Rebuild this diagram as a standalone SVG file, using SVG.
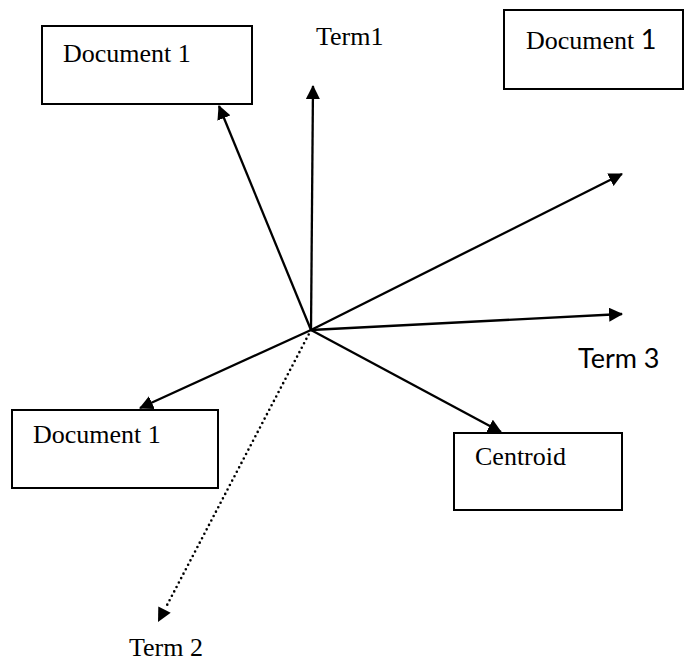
<svg xmlns="http://www.w3.org/2000/svg" width="685" height="661" viewBox="0 0 685 661">
<style>
.box{fill:#fff;stroke:#000;stroke-width:2}
.t{font-family:"Liberation Serif","Times New Roman",serif;font-size:26px;fill:#000}
.s{font-family:Lato,"Liberation Sans",sans-serif;font-size:27px;fill:#000}
.c{stroke:#000;stroke-width:2.3;fill:none}
.d{stroke:#000;stroke-width:2.6;fill:none;stroke-dasharray:0 5;stroke-linecap:round}
</style>
<defs>
<marker id="ah" markerUnits="userSpaceOnUse" markerWidth="14" markerHeight="14" refX="13" refY="7" orient="auto">
<path d="M0,0 L14,7 L0,14 z" fill="#000"/>
</marker>
</defs>
<rect width="685" height="661" fill="#fff"/>
<g id="doc-top-left">
<rect class="box" x="42" y="26" width="210" height="78"/>
<text class="t" x="63" y="62">Document 1</text>
</g>
<g id="doc-top-right">
<rect class="box" x="504" y="10" width="179" height="79"/>
<text class="t" x="526" y="49">Document <tspan class="s">1</tspan></text>
</g>
<g id="doc-bottom-left">
<rect class="box" x="12" y="410" width="206" height="78"/>
<text class="t" x="33" y="443">Document 1</text>
</g>
<g id="centroid">
<rect class="box" x="454" y="433" width="168" height="77"/>
<text class="t" x="475" y="465">Centroid</text>
</g>
<g id="labels">
<text class="t" x="316" y="45">Term1</text>
<text class="s" x="578" y="368">Term 3</text>
<text class="t" x="129" y="656">Term 2</text>
</g>
<g id="connectors">
<line class="c" x1="311" y1="330" x2="313" y2="86" marker-end="url(#ah)"/>
<line class="c" x1="311" y1="330" x2="219" y2="106" marker-end="url(#ah)"/>
<line class="c" x1="311" y1="330" x2="622" y2="174" marker-end="url(#ah)"/>
<line class="c" x1="311" y1="330" x2="622" y2="314" marker-end="url(#ah)"/>
<line class="c" x1="311" y1="330" x2="140" y2="408" marker-end="url(#ah)"/>
<line class="c" x1="311" y1="330" x2="501" y2="432" marker-end="url(#ah)"/>
<line class="d" x1="311" y1="330" x2="165" y2="609"/>
<path d="M158,622 L158.3,606.4 L170.7,612.8 z" fill="#000"/>
</g>
</svg>
